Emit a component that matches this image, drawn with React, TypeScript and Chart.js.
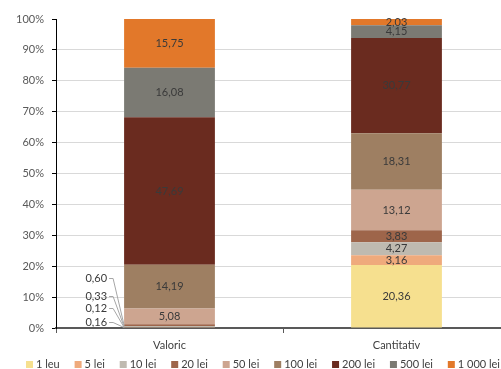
import React, { useEffect, useRef } from "react";
import { Chart, registerables } from "chart.js";

Chart.register(...registerables);

const categories = ["Valoric", "Cantitativ"];
const seriesNames = ["1 leu", "5 lei", "10 lei", "20 lei", "50 lei", "100 lei", "200 lei", "500 lei", "1 000 lei"];
const valoric = [0.16, 0.12, 0.33, 0.6, 5.08, 14.19, 47.69, 16.08, 15.75];
const cantitativ = [20.36, 3.16, 4.27, 3.83, 13.12, 18.31, 30.77, 4.15, 2.03];
const seriesColors = ["#F6E08F", "#EFAA7C", "#BFBAB0", "#9E654A", "#CDA590", "#9E7F62", "#6A2B1F", "#7B7A73", "#E2782A"];
const yMin = 0;
const yMax = 100;
const yStep = 10;

const FONT = "Lato, 'Noto Sans', sans-serif";
const SMALL_OFFSETS = [6, 20, 32, 50];

const fmt = (v: number) => v.toFixed(2).replace(".", ",");

const labelPlugin = {
  id: "segLabels",
  afterDatasetsDraw(chart: any) {
    const ctx = chart.ctx;
    ctx.save();
    ctx.font = `11px ${FONT}`;
    ctx.fillStyle = "#3A3A3A";
    ctx.textBaseline = "middle";
    const smallCount: number[] = [0, 0];
    chart.data.datasets.forEach((ds: any, i: number) => {
      const meta = chart.getDatasetMeta(i);
      meta.data.forEach((el: any, j: number) => {
        const v = ds.data[j];
        const p = el.getProps(["x", "y", "base", "width"], true);
        if (v >= 1) {
          ctx.textAlign = "center";
          ctx.fillText(fmt(v), p.x, (p.y + p.base) / 2);
        } else {
          const k = smallCount[j]++;
          const bottom = chart.chartArea.bottom;
          const ly = bottom - SMALL_OFFSETS[k];
          const left = p.x - p.width / 2;
          const lx = left - 17;
          ctx.textAlign = "right";
          ctx.fillText(fmt(v), lx, ly);
          ctx.beginPath();
          ctx.strokeStyle = "#A6A6A6";
          ctx.lineWidth = 1;
          ctx.moveTo(lx + 2, ly + 0.5);
          ctx.lineTo(lx + 6, ly + 0.5);
          ctx.lineTo(left, (p.y + p.base) / 2);
          ctx.stroke();
        }
      });
    });
    ctx.restore();
  },
};

const legendPlugin = {
  id: "customLegend",
  afterDraw(chart: any) {
    const ctx = chart.ctx;
    ctx.save();
    ctx.font = `11px ${FONT}`;
    ctx.textBaseline = "middle";
    ctx.textAlign = "left";
    const ds = chart.data.datasets;
    const box = 7;
    const gapText = 3;
    const widths = ds.map((d: any) => box + gapText + ctx.measureText(d.label).width);
    const total = 474;
    const sum = widths.reduce((a: number, b: number) => a + b, 0);
    const gap = (total - sum) / (ds.length - 1);
    let x = 26;
    const cy = 364.5;
    ds.forEach((d: any, i: number) => {
      ctx.fillStyle = d.backgroundColor;
      ctx.fillRect(x, cy - 3.5, box, box);
      ctx.fillStyle = "#404040";
      ctx.fillText(d.label, x + box + gapText, cy);
      x += widths[i] + gap;
    });
    ctx.restore();
  },
};

export default function App() {
  const ref = useRef<HTMLCanvasElement | null>(null);
  useEffect(() => {
    if (!ref.current) return;
    const datasets = seriesNames.map((name, i) => ({
      label: name,
      data: [valoric[i], cantitativ[i]],
      backgroundColor: seriesColors[i],
      borderWidth: 0,
      barPercentage: 0.4,
      categoryPercentage: 1,
    }));
    const chart = new Chart(ref.current, {
      type: "bar",
      data: { labels: categories, datasets },
      options: {
        responsive: false,
        animation: false,
        devicePixelRatio: 1,
        layout: { padding: { left: 16, right: 2, top: 19, bottom: 20 } },
        plugins: {
          legend: { display: false },
          tooltip: { enabled: false },
        },
        scales: {
          x: {
            stacked: true,
            grid: { display: true, drawOnChartArea: false, tickLength: 5, tickColor: "#595959", offset: true },
            border: { color: "#595959", width: 2 },
            ticks: { color: "#404040", font: { family: FONT, size: 11 }, padding: 6 },
            afterFit: (s: any) => {
              s.height = 21;
            },
          },
          y: {
            stacked: true,
            min: yMin,
            max: yMax,
            ticks: {
              stepSize: yStep,
              callback: (v: any) => v + "%",
              color: "#595959",
              font: { family: FONT, size: 11 },
              padding: 8,
            },
            grid: {
              color: (c: any) => (c.tick && c.tick.value === yMax ? "rgba(0,0,0,0)" : "#D9D9D9"),
              tickColor: "#000000",
              tickLength: 4,
            },
            border: { color: "#000000", width: 1 },
            afterFit: (s: any) => {
              s.width = 40;
            },
          },
        },
      },
      plugins: [labelPlugin, legendPlugin],
    } as any);
    return () => chart.destroy();
  }, []);
  return (
    <div style={{ position: "fixed", left: 0, top: 0, width: 501, height: 369, overflow: "hidden", background: "#fff" }}>
      <canvas ref={ref} width={512} height={369} style={{ display: "block", width: 512, height: 369 }} />
    </div>
  );
}
